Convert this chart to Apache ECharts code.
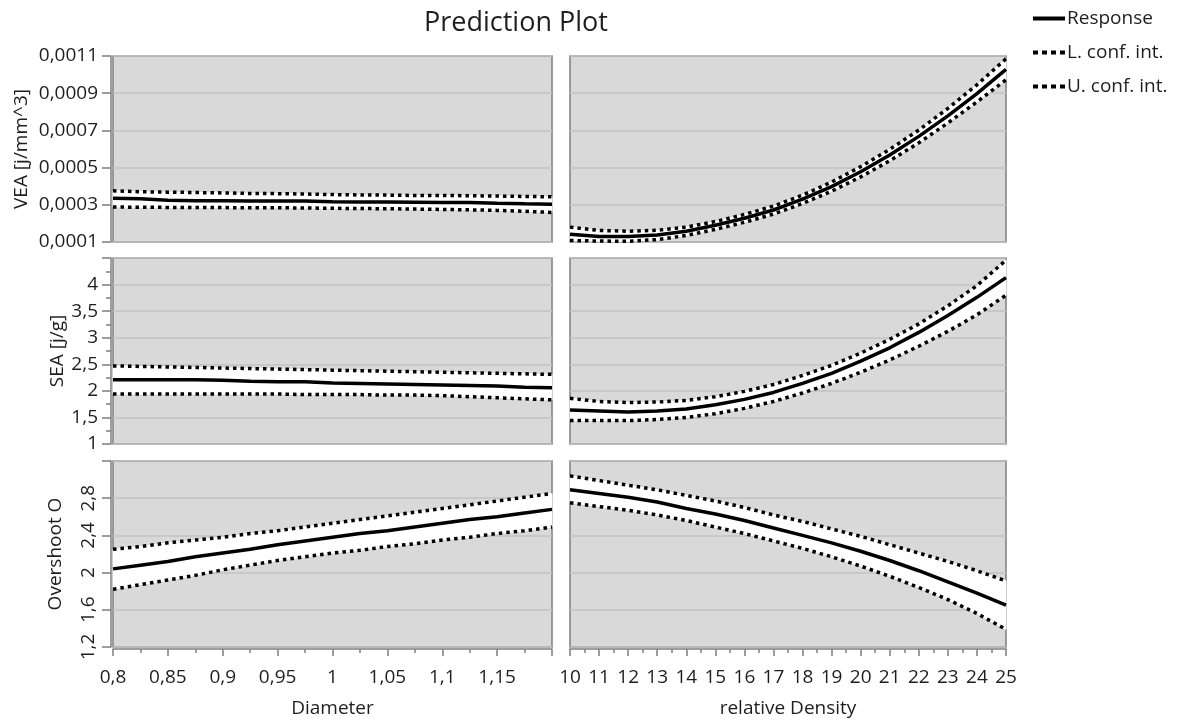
<!DOCTYPE html>
<html><head><meta charset="utf-8">
<script src="https://cdn.jsdelivr.net/npm/echarts@6/dist/echarts.min.js"></script>
<style>html,body{margin:0;padding:0;background:#fff}#c{width:1182px;height:720px}</style>
</head><body><div id="c"></div>
<script>
// ---- data ----
const diameter = [0.8,0.825,0.85,0.875,0.9,0.925,0.95,0.975,1,1.025,1.05,1.075,1.1,1.125,1.15,1.175,1.2];
const density  = [10,11,12,13,14,15,16,17,18,19,20,21,22,23,24,25];

const veaDiaResp = [0.000335,0.000333,0.000325,0.000322,0.000322,0.000321,0.00032,0.00032,0.000316,0.000315,0.000315,0.000314,0.000313,0.000312,0.000308,0.000305,0.000303];
const veaDiaUp   = [0.000375,0.00037,0.000368,0.000366,0.000364,0.000361,0.00036,0.000358,0.000355,0.000353,0.000352,0.00035,0.00035,0.000349,0.000347,0.000345,0.000343];
const veaDiaLo   = [0.000288,0.000287,0.000286,0.000285,0.000285,0.000284,0.000284,0.000283,0.000281,0.00028,0.000279,0.000277,0.000275,0.000273,0.00027,0.000265,0.000259];

const veaDenResp = [0.000142,0.00013,0.000129,0.000138,0.000158,0.00019,0.000228,0.000272,0.00033,0.000398,0.000478,0.000568,0.000668,0.000778,0.000898,0.001028];
const veaDenUp   = [0.00018,0.000162,0.000158,0.000163,0.00018,0.00021,0.000248,0.000293,0.000352,0.000422,0.000505,0.000598,0.000702,0.000818,0.000945,0.001085];
const veaDenLo   = [0.000108,0.000105,0.000104,0.000113,0.000135,0.000168,0.000206,0.00025,0.000307,0.000373,0.00045,0.000537,0.000633,0.00074,0.000853,0.000972];

const seaDiaResp = [2.21,2.21,2.21,2.21,2.2,2.18,2.17,2.17,2.15,2.14,2.13,2.12,2.11,2.1,2.09,2.07,2.06];
const seaDiaUp   = [2.47,2.46,2.45,2.44,2.43,2.42,2.41,2.4,2.39,2.38,2.37,2.36,2.35,2.34,2.33,2.32,2.31];
const seaDiaLo   = [1.94,1.94,1.94,1.94,1.94,1.94,1.94,1.93,1.93,1.93,1.92,1.92,1.91,1.89,1.87,1.85,1.83];

const seaDenResp = [1.64,1.62,1.6,1.62,1.66,1.74,1.84,1.97,2.14,2.33,2.56,2.81,3.1,3.42,3.76,4.13];
const seaDenUp   = [1.86,1.8,1.78,1.79,1.82,1.89,1.99,2.12,2.29,2.48,2.71,2.97,3.26,3.6,3.98,4.46];
const seaDenLo   = [1.44,1.44,1.44,1.46,1.5,1.57,1.67,1.8,1.96,2.14,2.35,2.58,2.84,3.12,3.43,3.8];

const ovDiaResp = [2.04,2.08,2.12,2.17,2.21,2.25,2.3,2.34,2.38,2.42,2.45,2.49,2.53,2.57,2.6,2.64,2.68];
const ovDiaUp   = [2.25,2.28,2.32,2.35,2.38,2.42,2.45,2.49,2.53,2.57,2.61,2.65,2.69,2.73,2.77,2.81,2.85];
const ovDiaLo   = [1.82,1.87,1.92,1.97,2.03,2.08,2.13,2.17,2.21,2.24,2.28,2.31,2.35,2.38,2.42,2.45,2.49];

const ovDenResp = [2.89,2.85,2.81,2.76,2.69,2.63,2.56,2.48,2.4,2.32,2.23,2.13,2.02,1.9,1.78,1.65];
const ovDenUp   = [3.04,2.99,2.94,2.89,2.83,2.77,2.7,2.62,2.55,2.47,2.39,2.3,2.21,2.12,2.02,1.91];
const ovDenLo   = [2.75,2.71,2.67,2.62,2.56,2.49,2.42,2.34,2.26,2.17,2.07,1.96,1.84,1.71,1.56,1.39];

const yNames = ['VEA [j/mm^3]', 'SEA [j/g]', 'Overshoot O'];
const xNames = ['Diameter', 'relative Density'];
const legendNames = ['Response', 'L. conf. int.', 'U. conf. int.'];
const titleText = 'Prediction Plot';

// ---- layout ----
const FONT = 'Open Sans';
const TXT = '#1e1e1e';
const BORDER = '#7f7f7f';
const colLeft = [113, 570], colWidth = [439, 436];
const rowTop = [56, 258, 461], rowH = 186;
const yScale = [
  {min:0.0001, max:0.0011, interval:0.0002, minor:false, rot:0, gap:80, hideMax:false},
  {min:1, max:4.5, interval:0.5, minor:true, rot:0, gap:44, hideMax:true},
  {min:1.2, max:3.2, interval:0.4, minor:false, rot:90, gap:46, hideMax:true}
];
const xScale = [
  {min:0.8, max:1.2, interval:0.05, hideMax:true},
  {min:10, max:25, interval:1, hideMax:false}
];
const panels = [
  [diameter, veaDiaResp, veaDiaLo, veaDiaUp], [density, veaDenResp, veaDenLo, veaDenUp],
  [diameter, seaDiaResp, seaDiaLo, seaDiaUp], [density, seaDenResp, seaDenLo, seaDenUp],
  [diameter, ovDiaResp, ovDiaLo, ovDiaUp],    [density, ovDenResp, ovDenLo, ovDenUp]
];
const comma = v => String(+(+v).toFixed(5)).replace('.', ',');

const grids = [], xAxes = [], yAxes = [], series = [];
for (let r = 0; r < 3; r++) {
  for (let c = 0; c < 2; c++) {
    const gi = r * 2 + c;
    grids.push({left: colLeft[c], top: rowTop[r], width: colWidth[c], height: rowH, show: true,
      backgroundColor: '#d9d9d9', borderColor: BORDER, borderWidth: 1.5});
    const xs = xScale[c];
    const bottom = r === 2;
    xAxes.push({type: 'value', gridIndex: gi, min: xs.min, max: xs.max, interval: xs.interval,
      show: bottom, offset: 2,
      axisLine: {show: true, lineStyle: {color: BORDER, width: 1.5}},
      axisTick: {show: true, length: 7, lineStyle: {color: BORDER, width: 1.5}},
      minorTick: {show: true, splitNumber: 2, length: 4, lineStyle: {color: BORDER, width: 1.5}},
      splitLine: {show: false},
      axisLabel: {fontFamily: FONT, fontSize: 19, color: TXT, margin: 19,
        formatter: v => (xs.hideMax && v > xs.max - xs.interval / 10) ? '' : comma(v)},
      name: bottom ? xNames[c] : '', nameLocation: 'middle', nameGap: 50,
      nameTextStyle: {fontFamily: FONT, fontSize: 19, color: TXT}});
    const ys = yScale[r];
    const left = c === 0;
    yAxes.push({type: 'value', gridIndex: gi, min: ys.min, max: ys.max, interval: ys.interval, offset: 2,
      axisLine: {show: left, lineStyle: {color: BORDER, width: 1.5}},
      axisTick: {show: left, length: 9, lineStyle: {color: BORDER, width: 1.5}},
      minorTick: {show: left && ys.minor, splitNumber: 2, length: 5, lineStyle: {color: BORDER, width: 1.5}},
      splitLine: {show: true, lineStyle: {color: '#c2c2c2', width: 1.5}},
      axisLabel: {show: left, fontFamily: FONT, fontSize: 19, color: TXT, margin: 13, rotate: ys.rot,
        showMaxLabel: true, showMinLabel: true,
        formatter: v => (ys.hideMax && v > ys.max - ys.interval / 10) ? '' : comma(v)},
      name: left ? yNames[r] : '', nameLocation: 'middle', nameGap: ys.gap,
      nameTextStyle: {fontFamily: FONT, fontSize: 19, color: TXT}});

    const [px, resp, lo, up] = panels[gi];
    const pair = arr => px.map((x, i) => [x, arr[i]]);
    series.push({type: 'custom', xAxisIndex: gi, yAxisIndex: gi, silent: true, z: 2,
      data: px.map((x, i) => [x, lo[i], up[i]]), encode: {x: 0, y: [1, 2]},
      renderItem: (params, api) => {
        if (params.dataIndex !== 0) return null;
        const pts = [];
        for (let i = 0; i < px.length; i++) pts.push(api.coord([px[i], up[i]]));
        for (let i = px.length - 1; i >= 0; i--) pts.push(api.coord([px[i], lo[i]]));
        return {type: 'polygon', shape: {points: pts}, style: {fill: '#ffffff', stroke: '#ffffff', lineWidth: 1}};
      }});
    const dotted = {color: '#000', width: 3.5, type: [3.5, 4], cap: 'butt'};
    series.push({name: legendNames[1], type: 'line', xAxisIndex: gi, yAxisIndex: gi, data: pair(lo),
      symbol: 'none', lineStyle: dotted, itemStyle: {color: '#000'}, silent: true, z: 3});
    series.push({name: legendNames[2], type: 'line', xAxisIndex: gi, yAxisIndex: gi, data: pair(up),
      symbol: 'none', lineStyle: dotted, itemStyle: {color: '#000'}, silent: true, z: 3});
    series.push({name: legendNames[0], type: 'line', xAxisIndex: gi, yAxisIndex: gi, data: pair(resp),
      symbol: 'none', lineStyle: {color: '#000', width: 3.5}, itemStyle: {color: '#000'}, silent: true, z: 4});
  }
}

const solidIcon = 'path://M0,0 L32,0 L32,4 L0,4 Z';
const dotIcon = 'path://M0,0h5v4h-5z M9,0h5v4h-5z M18,0h5v4h-5z M27,0h5v4h-5z';

const chart = echarts.init(document.getElementById('c'), null, {renderer: 'canvas'});
chart.setOption({
  animation: false,
  backgroundColor: '#ffffff',
  title: {text: titleText, left: 419, top: 5,
    textStyle: {fontFamily: FONT, fontSize: 27, fontWeight: 'normal', color: TXT}},
  legend: {
    data: [
      {name: legendNames[0], icon: solidIcon},
      {name: legendNames[1], icon: dotIcon},
      {name: legendNames[2], icon: dotIcon}
    ],
    orient: 'vertical', left: 1028, top: 3, itemWidth: 32, itemHeight: 4,
    itemGap: 13, selectedMode: false, itemStyle: {color: '#000', borderWidth: 0},
    textStyle: {fontFamily: FONT, fontSize: 19, color: TXT, padding: [0, 0, 0, -3], lineHeight: 21}},
  grid: grids, xAxis: xAxes, yAxis: yAxes, series: series
});
</script></body></html>
